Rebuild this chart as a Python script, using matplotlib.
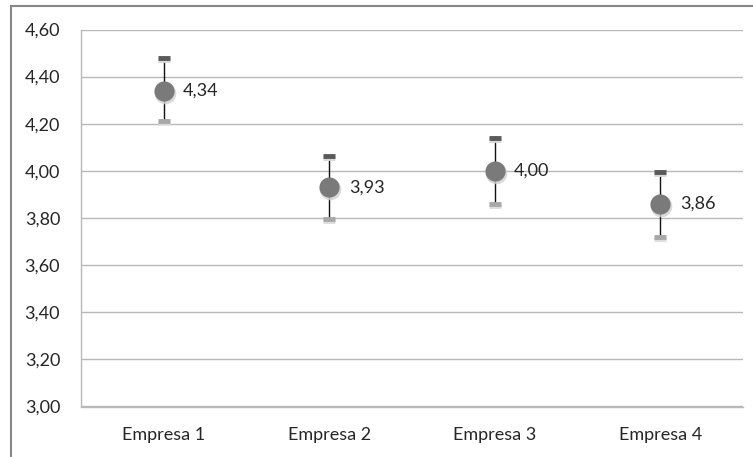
import matplotlib
matplotlib.use("Agg")
import matplotlib.pyplot as plt
from matplotlib.lines import Line2D
import matplotlib.transforms as mtrans

categories = ["Empresa 1", "Empresa 2", "Empresa 3", "Empresa 4"]
values = [4.34, 3.93, 4.00, 3.86]
err_up = [0.14, 0.135, 0.14, 0.135]
err_down = [0.13, 0.135, 0.14, 0.14]
value_labels = ["4,34", "3,93", "4,00", "3,86"]
yticks = [3.00, 3.20, 3.40, 3.60, 3.80, 4.00, 4.20, 4.40, 4.60]

plt.rcParams['font.family'] = ['Lato', 'DejaVu Sans']

W, H = 753, 457
fig = plt.figure(figsize=(W / 100, H / 100), dpi=100)
ax = fig.add_axes([81 / W, 1 - 406.5 / H, (743 - 81) / W, (406.5 - 29.5) / H])

x = list(range(len(categories)))
ax.set_xlim(-0.5, len(categories) - 0.5)
ax.set_ylim(3.0, 4.6)

FS = 13
ax.set_yticks(yticks)
ax.set_yticklabels([f"{t:.2f}".replace(".", ",") for t in yticks])
ax.set_xticks(x)
ax.set_xticklabels(categories)
ax.tick_params(axis='both', length=0, labelsize=FS, colors='#262626')
ax.tick_params(axis='y', pad=15)
ax.tick_params(axis='x', pad=15)
ax.yaxis.grid(True, color='#B8B8B8', linewidth=1.0)
ax.set_axisbelow(True)
for s in ['top', 'right']:
    ax.spines[s].set_visible(False)
for s in ['left', 'bottom']:
    ax.spines[s].set_color('#B8B8B8')
    ax.spines[s].set_linewidth(1.0)

tops = [v + u for v, u in zip(values, err_up)]
bots = [v - d for v, d in zip(values, err_down)]

# error bar lines
ax.vlines(x, bots, tops, color='#111111', linewidth=1.0, zorder=3)
# caps with faint shadow
cap_shadow = mtrans.offset_copy(ax.transData, fig=fig, x=0, y=-2, units='dots')
ax.plot(x, tops, linestyle='none', marker='_', markersize=9, mew=3.5, color='#D8D8D8',
        transform=cap_shadow, zorder=3)
ax.plot(x, bots, linestyle='none', marker='_', markersize=9, mew=3.5, color='#DDDDDD',
        transform=cap_shadow, zorder=3)
ax.plot(x, tops, linestyle='none', marker='_', markersize=9, mew=3.5, color='#5A5A5A', zorder=4)
ax.plot(x, bots, linestyle='none', marker='_', markersize=9, mew=3.5, color='#A8A8A8', zorder=4)

# marker shadow
shadow = mtrans.offset_copy(ax.transData, fig=fig, x=1.0, y=-2, units='dots')
ax.plot(x, values, linestyle='none', marker='o', markersize=15.5, color='#D0D0D0',
        markeredgewidth=0, alpha=0.8, transform=shadow, zorder=4)
ax.plot(x, values, linestyle='none', marker='o', markersize=14.5, color='#7A7A7A',
        markeredgewidth=0, zorder=5)

for xi, v, lab in zip(x, values, value_labels):
    ax.annotate(lab, (xi, v), xytext=(14, 0), textcoords='offset points',
                ha='left', va='center', fontsize=FS, color='#262626', zorder=6)

# outer chart border (left and top visible)
fig.add_artist(Line2D([11 / W, 11 / W], [0, 1 - 5.5 / H], transform=fig.transFigure,
                      color='#878787', linewidth=1.5))
fig.add_artist(Line2D([11 / W, 1], [1 - 5.5 / H, 1 - 5.5 / H], transform=fig.transFigure,
                      color='#878787', linewidth=1.5))

fig.savefig("out.png", dpi=100)
